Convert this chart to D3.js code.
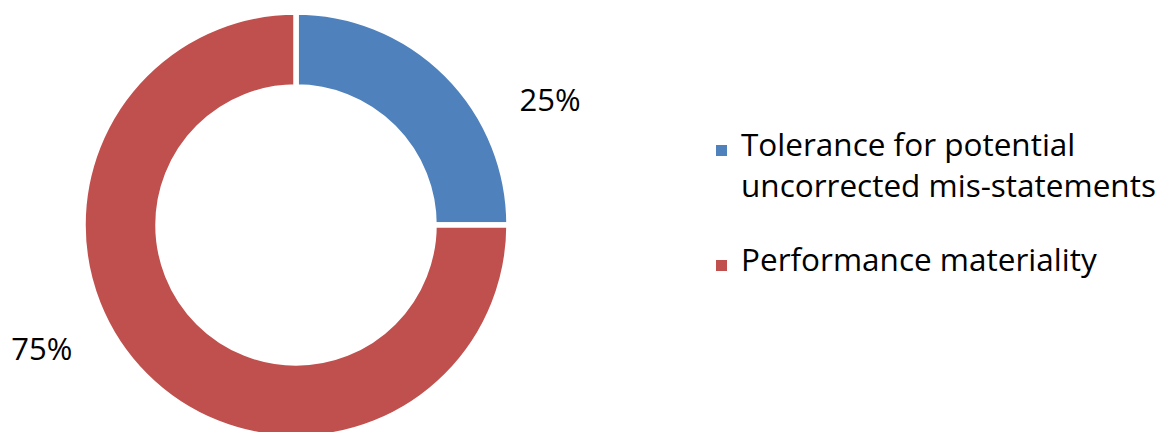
<!DOCTYPE html>
<html>
<head>
<meta charset="utf-8">
<script src="https://cdn.jsdelivr.net/npm/d3@7"></script>
<style>
  html, body { margin: 0; padding: 0; background: #fff; }
  svg { display: block; }
  text { font-family: "Open Sans", "Liberation Sans", sans-serif; fill: #000; }
</style>
</head>
<body>
<svg id="chart" width="1159" height="432"></svg>
<script>
const categories = ["Tolerance for potential uncorrected mis-statements", "Performance materiality"];
const legendLines = [["Tolerance for potential", "uncorrected mis-statements"], ["Performance materiality"]];
const values = [25, 75];
const valueLabels = ["25%", "75%"];
const colors = ["#4F81BD", "#C0504D"];

const svg = d3.select("#chart");
const cx = 296, cy = 225, outerR = 213, innerR = 138;

const pie = d3.pie().sort(null).value(d => d).startAngle(0).endAngle(2 * Math.PI);
const arcs = pie(values);
const arc = d3.arc().innerRadius(innerR).outerRadius(outerR);

const g = svg.append("g").attr("transform", `translate(${cx},${cy})`);
g.selectAll("path").data(arcs).enter().append("path")
  .attr("d", arc)
  .attr("fill", (d, i) => colors[i])
  .attr("stroke", "#fff")
  .attr("stroke-width", 5.5);

// data labels placed outside the ring
const labelR = 283;
const labelOffset = 0.33; // radians past the mid angle
g.selectAll("text.lbl").data(arcs).enter().append("text")
  .attr("class", "lbl")
  .attr("text-anchor", "middle")
  .attr("font-size", 31)
  .attr("x", d => labelR * Math.sin((d.startAngle + d.endAngle) / 2 + labelOffset))
  .attr("y", d => -labelR * Math.cos((d.startAngle + d.endAngle) / 2 + labelOffset))
  .attr("dy", "0.35em")
  .text((d, i) => valueLabels[i]);

// legend
const legendX = 716, legendY = 145;
const lineH = 41;
const rowTops = [legendY, legendY + 115];
const lg = svg.append("g");
categories.forEach((c, i) => {
  const row = lg.append("g").attr("transform", `translate(${legendX},${rowTops[i]})`);
  row.append("rect").attr("width", 11).attr("height", 11).attr("fill", colors[i]);
  const t = row.append("text").attr("x", 25).attr("y", 11).attr("font-size", 31.5);
  legendLines[i].forEach((ln, j) => {
    t.append("tspan").attr("x", 25).attr("dy", j === 0 ? 0 : lineH).text(ln);
  });
});
</script>
</body>
</html>
